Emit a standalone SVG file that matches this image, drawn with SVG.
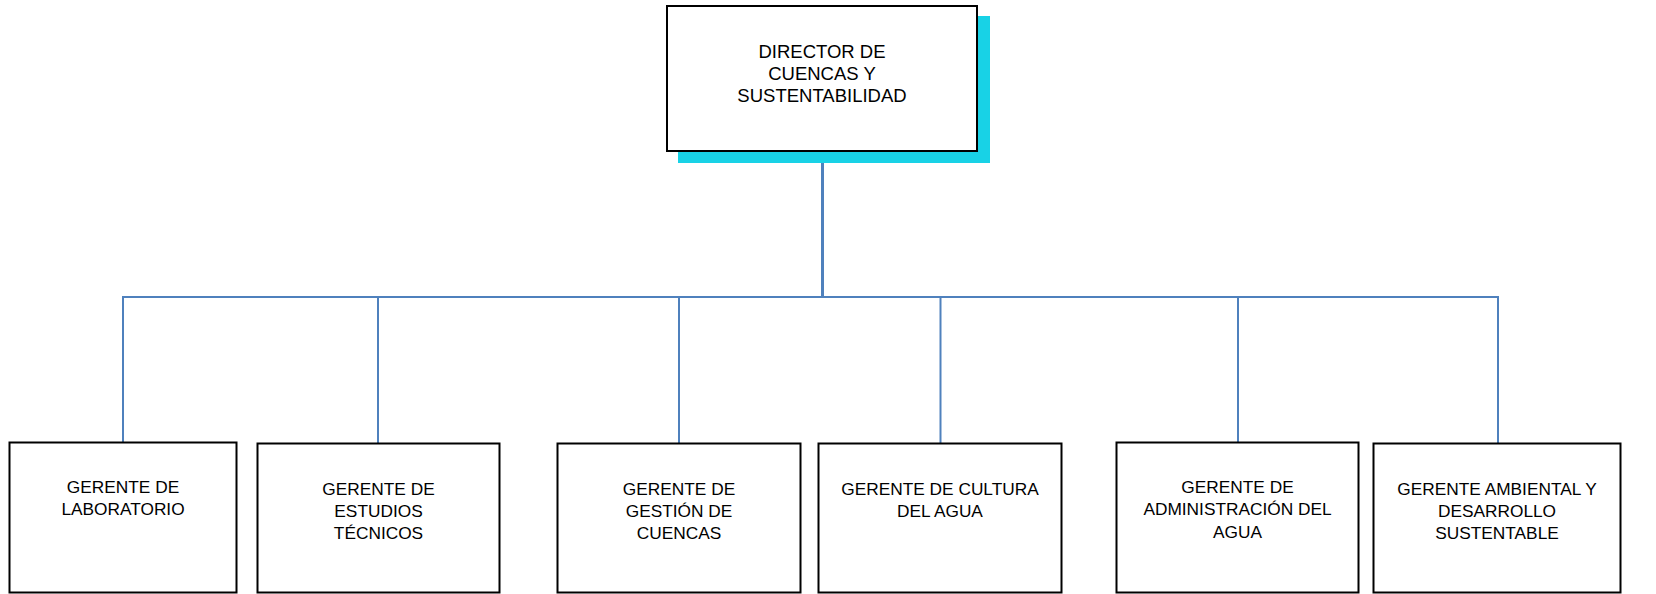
<svg xmlns="http://www.w3.org/2000/svg" width="1656" height="594" viewBox="0 0 1656 594">
<style>
.box{fill:#fff;stroke:#000;stroke-width:2}
.shadow{fill:#18D2E6}
.lbl{font-family:"Liberation Sans",Arial,sans-serif;font-size:17.3px;fill:#000;text-anchor:middle}
.top{font-size:18.5px}
.conn{fill:none;stroke:#4F81BD;stroke-width:2}
</style>
<rect width="1656" height="594" fill="#fff"/>
<g id="connectors">
<line class="conn" x1="822.5" y1="151" x2="822.5" y2="297" style="stroke-width:3"/>
<polyline class="conn" points="123,443 123,297 1498,297 1498,443"/>
<line class="conn" x1="378" y1="297" x2="378" y2="444"/>
<line class="conn" x1="679" y1="297" x2="679" y2="444"/>
<line class="conn" x1="940.5" y1="297" x2="940.5" y2="444"/>
<line class="conn" x1="1238" y1="297" x2="1238" y2="443"/>
</g>
<g id="director">
<rect class="shadow" x="678" y="16" width="312" height="147"/>
<rect class="box" x="667" y="6" width="310" height="145"/>
<text class="lbl top" x="822" y="58">DIRECTOR DE</text>
<text class="lbl top" x="822" y="80">CUENCAS Y</text>
<text class="lbl top" x="822" y="102">SUSTENTABILIDAD</text>
</g>
<g id="laboratorio">
<rect class="box" x="9.5" y="442.5" width="227" height="150"/>
<text class="lbl" x="123" y="492.5">GERENTE DE</text>
<text class="lbl" x="123" y="515">LABORATORIO</text>
</g>
<g id="estudios">
<rect class="box" x="257.5" y="443.5" width="242" height="149"/>
<text class="lbl" x="378.5" y="494.5">GERENTE DE</text>
<text class="lbl" x="378.5" y="516.7">ESTUDIOS</text>
<text class="lbl" x="378.5" y="539">TÉCNICOS</text>
</g>
<g id="gestion">
<rect class="box" x="557.5" y="443.5" width="243" height="149"/>
<text class="lbl" x="679" y="494.5">GERENTE DE</text>
<text class="lbl" x="679" y="516.7">GESTIÓN DE</text>
<text class="lbl" x="679" y="539">CUENCAS</text>
</g>
<g id="cultura">
<rect class="box" x="818.5" y="443.5" width="243" height="149"/>
<text class="lbl" x="940" y="494.5">GERENTE DE CULTURA</text>
<text class="lbl" x="940" y="516.5">DEL AGUA</text>
</g>
<g id="administracion">
<rect class="box" x="1116.5" y="442.5" width="242" height="150"/>
<text class="lbl" x="1237.5" y="492.5">GERENTE DE</text>
<text class="lbl" x="1237.5" y="515">ADMINISTRACIÓN DEL</text>
<text class="lbl" x="1237.5" y="537.5">AGUA</text>
</g>
<g id="ambiental">
<rect class="box" x="1373.5" y="443.5" width="247" height="149"/>
<text class="lbl" x="1497" y="494.5">GERENTE AMBIENTAL Y</text>
<text class="lbl" x="1497" y="516.5">DESARROLLO</text>
<text class="lbl" x="1497" y="539">SUSTENTABLE</text>
</g>
</svg>
